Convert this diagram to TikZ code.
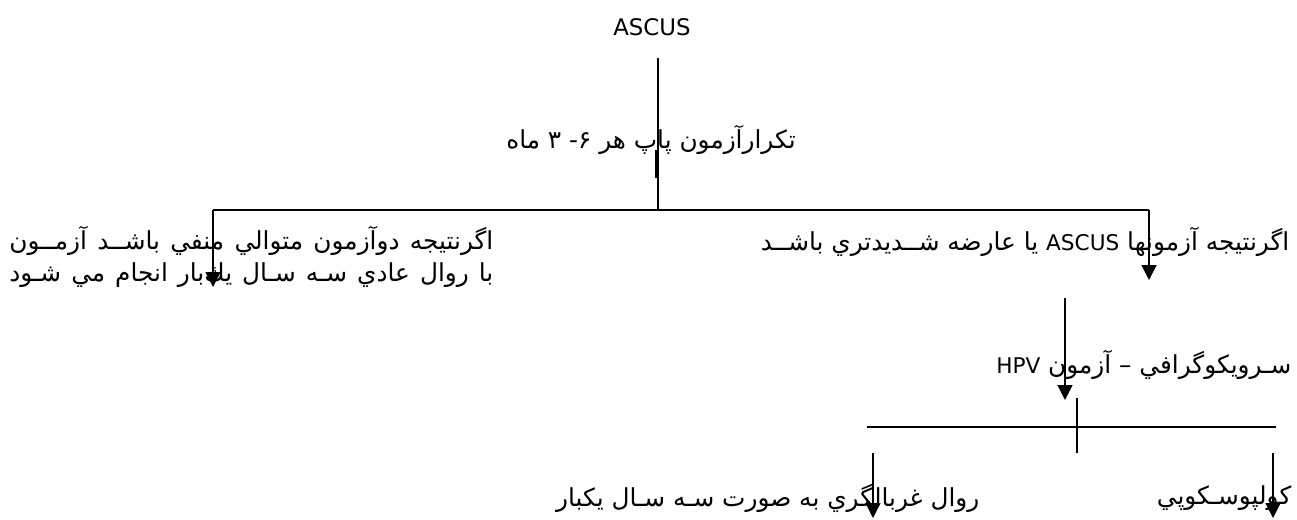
\documentclass[tikz,border=0pt]{standalone}
\usepackage{fontspec}
\setmainfont{DejaVu Sans}
\newfontfamily\arabicfont[Script=Arabic]{DejaVu Sans}
\TeXXeTstate=1
\usetikzlibrary{arrows.meta}

\tikzset{fa/.style={font=\arabicfont\fontsize{14.1}{17}\selectfont,inner sep=0pt},
  lat/.style={font=\fontsize{13}{16}\selectfont,inner sep=0pt}}
\newcommand{\latin}[1]{\beginL{\fontsize{12.3}{16}\selectfont #1}\endL{}}

\begin{document}
\begin{tikzpicture}[x=0.02cm,y=-0.02cm,line width=0.8pt,>={Triangle[width=0.3cm,length=0.3cm]}]
\useasboundingbox (0,0) rectangle (1297,520);

\node[lat] (ascus) at (652,27) {ASCUS};
\node[fa] (pap) at (651,140) {\beginR تكرارآزمون پاپ هر ۶- ۳ ماه\endR};
\node[fa,anchor=east,align=right] (neg) at (494,257) {\hbox to 9.68cm{\beginR اگرنتيجه دوآزمون متوالي منفي باشــد آزمــون\endR}\\[1pt]\hbox to 9.68cm{\beginR با روال عادي سـه سـال يك‌بار انجام مي شـود\endR}};
\node[fa,anchor=east] (pos) at (1290,242) {\beginR اگرنتيجه آزمونها \latin{ASCUS} يا عارضه شــديدتري باشــد\endR};
\node[fa,anchor=east] (hpv) at (1292,365) {\beginR سـرويكوگرافي – آزمون \latin{HPV}\endR};
\node[fa,anchor=east] (screen) at (980,498) {\beginR روال غربالگري به صورت سـه سـال يكبار\endR};
\node[fa,anchor=east] (colpo) at (1292,498) {\beginR كولپوسـكوپي\endR};

% junctions
\coordinate (s0) at (658,58);
\coordinate (j0) at (658,210);
\coordinate (jl) at (213,210);
\coordinate (jr) at (1149,210);
\coordinate (al) at (213,287);
\coordinate (ar) at (1149,280);
\coordinate (h0) at (1065,298);
\coordinate (h1) at (1065,400);
\coordinate (k0) at (1077,398);
\coordinate (k1) at (1077,453);
\coordinate (kl) at (867,427);
\coordinate (kr) at (1276,427);
\coordinate (b0) at (873,453);
\coordinate (b1) at (873,518);
\coordinate (c0) at (1273,453);
\coordinate (c1) at (1273,518);

\draw (s0) -- (j0);
\draw[line width=2pt] (657,150) -- (657,178);
\draw (jl) -- (jr);
\draw (k0) -- (k1);
\draw (kl) -- (kr);

\foreach \a/\b in {jl/al, jr/ar, h0/h1, b0/b1, c0/c1}
\draw[->] (\a) -- (\b);

\end{tikzpicture}
\end{document}
